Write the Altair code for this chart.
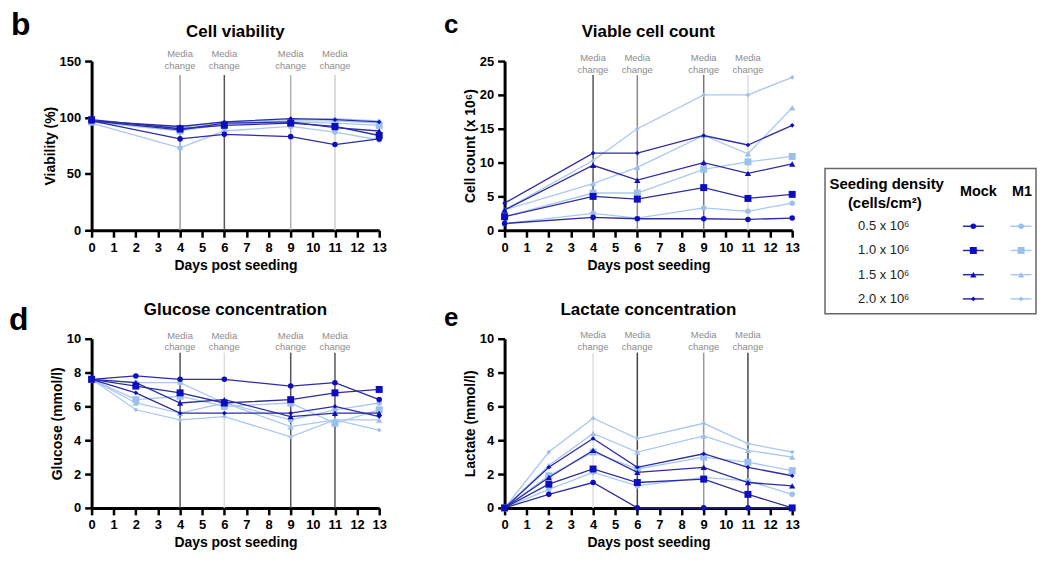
import altair as alt
import pandas as pd

FONT = "Liberation Sans"

# ---------------- data ----------------
densities = ["0.5 x 10⁶", "1.0 x 10⁶", "1.5 x 10⁶", "2.0 x 10⁶"]
groups = ["Mock", "M1"]
shapes = ["circle", "square", "triangle-up", "diamond"]
media_days = [4, 6, 9, 11]

days_bc = [0, 4, 6, 9, 11, 13]
days_de = [0, 2, 4, 6, 9, 11, 13]

viability_mock = [
    [97, 81, 85, 83, 76, 81],
    [98, 90, 93, 95, 92, 84],
    [97, 89, 95, 96, 91, 88],
    [97, 92, 96, 99, 98, 96],
]
viability_m1 = [
    [95, 73, 88, 92, 87, 80],
    [96, 88, 94, 96, 95, 93],
    [96, 90, 95, 97, 97, 95],
    [97, 91, 96, 98, 99, 97],
]
count_mock = [
    [1.0, 1.9, 1.7, 1.7, 1.6, 1.8],
    [2.0, 5.0, 4.6, 6.3, 4.7, 5.3],
    [3.0, 9.6, 7.4, 10.0, 8.4, 9.8],
    [4.0, 11.4, 11.4, 14.0, 12.6, 15.5],
]
count_m1 = [
    [1.0, 2.5, 1.8, 3.3, 2.8, 4.0],
    [2.0, 5.5, 5.5, 9.0, 10.1, 10.9],
    [3.0, 6.9, 9.3, 14.0, 11.3, 18.1],
    [3.0, 10.3, 15.0, 20.0, 20.0, 22.6],
]
glucose_mock = [
    [7.6, 7.8, 7.6, 7.6, 7.2, 7.4, 6.4],
    [7.6, 7.2, 6.8, 6.2, 6.4, 6.8, 7.0],
    [7.6, 7.4, 6.2, 6.4, 5.4, 5.6, 5.6],
    [7.6, 6.8, 5.6, 5.6, 5.6, 6.0, 5.4],
]
glucose_m1 = [
    [7.6, 7.4, 7.4, 6.2, 5.2, 5.8, 6.2],
    [7.6, 6.4, 6.6, 6.0, 6.2, 5.0, 5.8],
    [7.6, 6.2, 5.6, 6.2, 4.8, 5.2, 5.2],
    [7.6, 5.8, 5.2, 5.4, 4.2, 5.2, 4.6],
]
lactate_mock = [
    [0, 0.8, 1.5, 0, 0, 0, 0],
    [0, 1.4, 2.3, 1.5, 1.7, 0.8, 0],
    [0, 1.8, 3.4, 2.1, 2.4, 1.5, 1.3],
    [0, 2.4, 4.1, 2.4, 3.2, 2.4, 1.9],
]
lactate_m1 = [
    [0, 1.1, 2.1, 1.3, 1.8, 1.6, 0.8],
    [0, 1.9, 3.3, 2.3, 3.0, 2.7, 2.2],
    [0, 2.5, 4.4, 3.3, 4.25, 3.4, 3.0],
    [0, 3.3, 5.3, 4.1, 5.0, 3.8, 3.3],
]

panel_letters = ["b", "c", "d", "e"]
panel_titles = ["Cell viability", "Viable cell count",
                "Glucose concentration", "Lactate concentration"]
y_titles = ["Viability (%)", "Cell count (x 10⁶)", "Glucose (mmol/l)", "Lactate (mmol/l)"]
x_title = "Days post seeding"

# ---------------- styles ----------------
MOCK_LINE = "#2c2ca4"
MOCK_PT = "#0e0ec0"
M1_LINE = "#a9c8f0"
M1_PT = "#9cc0ee"
W, H = 289, 170
RULE_GAP = 14  # px between plot top and top of media-change rules

size_scale = alt.Scale(type="point", domain=[densities[3], densities[0], densities[2], densities[1]],
                       range=[22, 49], padding=0)
shape_scale = alt.Scale(domain=densities, range=shapes)


def long_df(days, mock, m1):
    rows = []
    for g, data in (("M1", m1), ("Mock", mock)):
        for dens, vals in zip(densities, data):
            for d, v in zip(days, vals):
                rows.append({"day": d, "value": v, "group": g, "density": dens})
    return pd.DataFrame(rows)


def make_panel(i, ymax, ystep, days, mock, m1, shades, text_y, letter_pos, letter_size):
    df = long_df(days, mock, m1)
    xsc = alt.Scale(domain=[0, 13], nice=False, zero=False)
    ysc = alt.Scale(domain=[0, ymax], nice=False)
    xax = alt.Axis(values=list(range(14)), title=x_title, labelAngle=0,
                   labelFlush=False, labelOverlap=False, labelPadding=4, titlePadding=4)
    yax = alt.Axis(values=list(range(0, ymax + 1, ystep)), title=y_titles[i],
                   labelOverlap=False, labelPadding=4, titlePadding=2)

    def X(f):
        return alt.X(f, scale=xsc, axis=xax)

    def Y(f):
        return alt.Y(f, scale=ysc, axis=yax)

    rule_top = ymax * (1 - RULE_GAP / H)
    mc = pd.DataFrame({"day": media_days, "shade": shades,
                       "top": [rule_top] * 4, "bottom": [0] * 4})
    rules = alt.Chart(mc).mark_rule(strokeWidth=1.5).encode(
        x=X("day:Q"), y=Y("top:Q"), y2=alt.Y2("bottom:Q"),
        stroke=alt.Stroke("shade:N", scale=None, legend=None))
    media1 = alt.Chart(mc).mark_text(text="Media", fontSize=9.5, color="#8c8c8c",
                                     baseline="middle", font=FONT).encode(
        x=X("day:Q"), y=alt.value(text_y[0]))
    media2 = alt.Chart(mc).mark_text(text="change", fontSize=9.5, color="#8c8c8c",
                                     baseline="middle", font=FONT).encode(
        x=X("day:Q"), y=alt.value(text_y[1]))

    layers = [rules, media1, media2]
    for g, lc, pc in (("M1", M1_LINE, M1_PT), ("Mock", MOCK_LINE, MOCK_PT)):
        sub = alt.Chart(df).transform_filter(alt.datum.group == g)
        layers.append(sub.mark_line(color=lc, strokeWidth=1.3).encode(
            x=X("day:Q"), y=Y("value:Q"), detail="density:N"))
        layers.append(sub.mark_point(filled=True, opacity=1, color=pc).encode(
            x=X("day:Q"), y=Y("value:Q"),
            shape=alt.Shape("density:N", scale=shape_scale, legend=None),
            size=alt.Size("density:N", scale=size_scale, legend=None)))

    letter = alt.Chart(pd.DataFrame({"t": [panel_letters[i]]})).mark_text(
        align="left", baseline="alphabetic", fontSize=letter_size, fontWeight="bold",
        color="black", font=FONT).encode(
        text="t:N", x=alt.value(letter_pos[0]), y=alt.value(letter_pos[1]))
    title = alt.Chart(pd.DataFrame({"t": [panel_titles[i]]})).mark_text(
        align="center", baseline="alphabetic", fontSize=17, fontWeight="bold",
        color="black", font=FONT).encode(
        text="t:N", x=alt.value(W / 2), y=alt.value(-24))
    layers += [letter, title]
    return alt.layer(*layers).properties(width=W, height=H)


b = make_panel(0, 150, 50, days_bc, viability_mock, viability_m1,
               ["#9a9a9a", "#555555", "#b0b0b0", "#cfcfcf"], (-7, 4.5), (-81, -26), 32)
c = make_panel(1, 25, 5, days_bc, count_mock, count_m1,
               ["#555555", "#8a8a8a", "#777777", "#dddddd"], (-3, 9), (-61, -28), 26)
d = make_panel(2, 10, 2, days_de, glucose_mock, glucose_m1,
               ["#555555", "#dddddd", "#555555", "#555555"], (-2.7, 8.4), (-83, -9), 32)
e = make_panel(3, 10, 2, days_de, lactate_mock, lactate_m1,
               ["#dddddd", "#444444", "#999999", "#444444"], (-3.3, 8), (-61, -13), 26)

# ---------------- legend ----------------
LW, LH = 212, 146
leg_df = pd.DataFrame([{"group": g, "density": dd} for dd in densities for g in groups])
lx = alt.X("group:N", scale=alt.Scale(domain=groups, range=[149, 197], padding=0), axis=None)
ly = alt.Y("density:N", scale=alt.Scale(domain=densities, range=[58, 131], padding=0), axis=None)

leg_lines = alt.Chart(leg_df).mark_point(shape="M-1,0L1,0", filled=False, size=441,
                                         strokeWidth=1.5, opacity=1).encode(
    x=lx, y=ly,
    stroke=alt.Stroke("group:N", scale=alt.Scale(domain=groups, range=[MOCK_LINE, M1_LINE]),
                      legend=None))
leg_pts = alt.Chart(leg_df).mark_point(filled=True, opacity=1).encode(
    x=lx, y=ly,
    color=alt.Color("group:N", scale=alt.Scale(domain=groups, range=[MOCK_PT, M1_PT]), legend=None),
    shape=alt.Shape("density:N", scale=shape_scale, legend=None),
    size=alt.Size("density:N", scale=size_scale, legend=None))
leg_rows = alt.Chart(pd.DataFrame({"density": densities})).mark_text(
    align="center", baseline="middle", fontSize=13, color="#222222", font=FONT).encode(
    x=alt.value(59), y=ly, text="density:N")
leg_mock = alt.Chart(pd.DataFrame({"t": [groups[0]]})).mark_text(
    align="center", baseline="middle", fontSize=14.5, fontWeight="bold", color="black",
    font=FONT).encode(x=alt.value(154), y=alt.value(24), text="t:N")
leg_m1 = alt.Chart(pd.DataFrame({"t": [groups[1]]})).mark_text(
    align="center", baseline="middle", fontSize=14.5, fontWeight="bold", color="black",
    font=FONT).encode(x=alt.value(198), y=alt.value(24), text="t:N")
leg_h1 = alt.Chart(pd.DataFrame({"t": ["Seeding density"]})).mark_text(
    align="center", baseline="middle", fontSize=15, fontWeight="bold", color="black",
    font=FONT).encode(x=alt.value(62), y=alt.value(16), text="t:N")
leg_h2 = alt.Chart(pd.DataFrame({"t": ["(cells/cm²)"]})).mark_text(
    align="center", baseline="middle", fontSize=15, fontWeight="bold", color="black",
    font=FONT).encode(x=alt.value(60), y=alt.value(35), text="t:N")

legend = alt.layer(leg_lines, leg_pts, leg_rows, leg_mock, leg_m1, leg_h1, leg_h2).properties(
    width=LW, height=LH, view=alt.ViewBackground(stroke="#666666", strokeWidth=1.5))
spacer = alt.Chart(pd.DataFrame({"a": [0]})).mark_point(opacity=0).encode(
    x=alt.value(0), y=alt.value(0)).properties(width=LW, height=108)

grid = alt.concat(b, c, d, e, columns=2, spacing={"row": 109, "column": 126}, bounds="flush")
legend_col = alt.vconcat(spacer, legend, spacing=0, bounds="flush")

chart = alt.hconcat(grid, legend_col, spacing=22).properties(
    padding={"left": 1, "top": 0, "right": 0, "bottom": 0}
).configure_view(stroke=None).configure_axis(
    domainColor="black", domainWidth=3, tickColor="black", tickWidth=2.5, tickSize=7,
    labelFont=FONT, labelFontSize=13, labelFontWeight="bold", labelColor="black",
    titleFont=FONT, titleFontSize=14, titleFontWeight="bold",
    titleColor="black", grid=False
)

chart.save("out.html", embed_options={"renderer": "svg", "actions": False})
